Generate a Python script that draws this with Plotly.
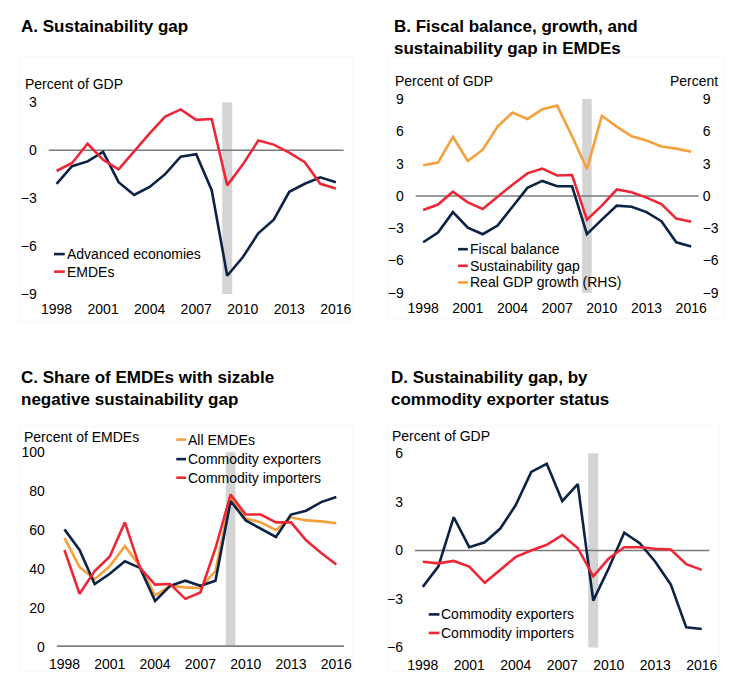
import plotly.graph_objects as go

W, H = 740, 680
FONT = "Liberation Sans, Arial, sans-serif"
NAVY = "#0b2344"
RED = "#ee2737"
ORANGE = "#f6a03c"
BAND = "#d4d4d4"
ZERO = "#7a7a7a"

years = list(range(1998, 2017))
year_ticks = [1998, 2001, 2004, 2007, 2010, 2013, 2016]
recession_year = 2009

# Panel A: sustainability gap (percent of GDP)
adv_gap = [-2.1, -1.0, -0.7, -0.1, -2.0, -2.8, -2.3, -1.5, -0.4, -0.25, -2.5,
           -7.85, -6.7, -5.2, -4.35, -2.6, -2.1, -1.7, -2.0]
emde_gap = [-1.3, -0.8, 0.4, -0.6, -1.2, -0.05, 1.05, 2.1, 2.55, 1.9, 1.95,
            -2.2, -0.9, 0.6, 0.35, -0.15, -0.75, -2.1, -2.4]

# Panel B: fiscal balance, sustainability gap, real GDP growth in EMDEs
fiscal_balance = [-4.3, -3.4, -1.5, -2.95, -3.55, -2.75, -1.0, 0.75, 1.4, 0.9, 0.9,
                  -3.55, -2.2, -0.9, -1.0, -1.5, -2.35, -4.3, -4.7]
gdp_growth = [2.85, 3.1, 5.5, 3.25, 4.3, 6.45, 7.75, 7.15, 8.05, 8.4, 5.55,
              2.5, 7.45, 6.45, 5.55, 5.15, 4.6, 4.4, 4.1]

# Panel C: share of EMDEs with sizable negative sustainability gap (percent)
share_all = [56, 41, 34.8, 41.5, 51.8, 41.5, 26.4, 31.4, 30.6, 30.3, 39,
             76.6, 66, 64, 60, 66.6, 65, 64.5, 63.5]
share_exporters = [60.4, 49.8, 32.3, 37.6, 44, 40.6, 23.6, 31.4, 34, 31.4, 34,
                   75, 65, 60.7, 56.5, 68, 70, 74.4, 77]
share_importers = [49.8, 27.3, 39, 46.5, 64, 40.6, 32, 32.3, 24.7, 28, 50.7,
                   78.3, 68, 68, 64, 64, 54.8, 48.2, 42.3]

# Panel D: sustainability gap by commodity exporter status (percent of GDP)
gap_exporters = [-2.25, -1.0, 2.05, 0.2, 0.5, 1.35, 2.8, 4.85, 5.35, 3.05, 4.1,
                 -3.1, -1.1, 1.1, 0.45, -0.7, -2.1, -4.75, -4.85]
gap_importers = [-0.7, -0.8, -0.65, -1.0, -2.0, -1.2, -0.4, 0.0, 0.35, 0.95, 0.15,
                 -1.6, -0.5, 0.2, 0.2, 0.1, 0.05, -0.85, -1.2]


def px(x):
    return x / W


def py(y):
    return 1 - y / H


fig = go.Figure()

LW = 2.6


def add_line(x, y, color, xa, ya, name):
    fig.add_trace(go.Scatter(x=x, y=y, mode="lines", name=name,
                             line=dict(color=color, width=LW),
                             xaxis=xa, yaxis=ya, showlegend=False,
                             hoverinfo="x+y+name"))


# Panel A
add_line(years, adv_gap, NAVY, "x", "y", "Advanced economies")
add_line(years, emde_gap, RED, "x", "y", "EMDEs")
# Panel B
add_line(years, gdp_growth, ORANGE, "x2", "y3", "Real GDP growth (RHS)")
add_line(years, emde_gap, RED, "x2", "y2", "Sustainability gap")
add_line(years, fiscal_balance, NAVY, "x2", "y2", "Fiscal balance")
# Panel C
add_line(years, share_all, ORANGE, "x3", "y4", "All EMDEs")
add_line(years, share_exporters, NAVY, "x3", "y4", "Commodity exporters")
add_line(years, share_importers, RED, "x3", "y4", "Commodity importers")
# Panel D
add_line(years, gap_exporters, NAVY, "x4", "y5", "Commodity exporters")
add_line(years, gap_importers, RED, "x4", "y5", "Commodity importers")

tick_font = dict(family=FONT, size=14, color="#000000")

xcommon = dict(range=[1997.5, 2016.5], tickvals=year_ticks, showgrid=False,
               zeroline=False, showline=False, ticks="", tickfont=tick_font,
               fixedrange=True)
ycommon = dict(showgrid=False, zeroline=False, showline=False, ticks="",
               tickfont=tick_font, ticklabelstandoff=11, fixedrange=True)

domA = dict(x=[px(41.7), px(343)], y=[py(293), py(96.5)])
domB = dict(x=[px(416.7), px(705.9)], y=[py(291.7), py(93.3)])
domC = dict(x=[px(50), px(343.3)], y=[py(654.3), py(455)])
domD = dict(x=[px(416), px(717)], y=[py(655), py(456)])

fig.update_layout(
    width=W, height=H,
    margin=dict(l=0, r=0, t=0, b=0),
    paper_bgcolor="white", plot_bgcolor="rgba(0,0,0,0)",
    font=dict(family=FONT, size=14, color="#000000"),
    xaxis=dict(domain=domA["x"], anchor="y", ticklabelstandoff=5, **xcommon),
    yaxis=dict(domain=domA["y"], anchor="x", range=[-9, 3],
               tickvals=[3, 0, -3, -6, -9], **ycommon),
    xaxis2=dict(domain=domB["x"], anchor="y2", ticklabelstandoff=5, **xcommon),
    yaxis2=dict(domain=domB["y"], anchor="x2", range=[-9, 9],
                tickvals=[9, 6, 3, 0, -3, -6, -9], **ycommon),
    yaxis3=dict(overlaying="y2", side="right", anchor="x2", range=[-9, 9],
                tickvals=[9, 6, 3, 0, -3, -6, -9], showgrid=False, zeroline=False,
                showline=False, ticks="", tickfont=tick_font,
                ticklabelstandoff=3, fixedrange=True),
    xaxis3=dict(domain=domC["x"], anchor="y4", ticklabelstandoff=7, **xcommon),
    yaxis4=dict(domain=domC["y"], anchor="x3", range=[0, 100],
                tickvals=[0, 20, 40, 60, 80, 100], **ycommon),
    xaxis4=dict(domain=domD["x"], anchor="y5", ticklabelstandoff=7, **xcommon),
    yaxis5=dict(domain=domD["y"], anchor="x4", range=[-6, 6],
                tickvals=[6, 3, 0, -3, -6], **ycommon),
)

shapes = []

# faint chart-area frames
for x0, y0, x1, y1 in [(12, 50, 353, 322), (388, 50, 732, 318),
                       (12, 428, 353, 679), (388, 428, 727, 679)]:
    shapes.append(dict(type="rect", xref="paper", yref="paper",
                       x0=px(x0), x1=px(x1), y0=py(y1), y1=py(y0),
                       line=dict(color="#f6f6f6", width=1), layer="below"))

# recession-year bands
for xa, ya in [("x", "y"), ("x2", "y2"), ("x3", "y4"), ("x4", "y5")]:
    shapes.append(dict(type="rect", xref=xa, yref=ya + " domain",
                       x0=recession_year - 0.32, x1=recession_year + 0.32,
                       y0=0, y1=1, fillcolor=BAND, line=dict(width=0),
                       layer="below"))

# zero lines
for xa, ya, w in [("x", "y", 1.5), ("x2", "y2", 1.5), ("x4", "y5", 1.5)]:
    shapes.append(dict(type="line", xref=xa + " domain", yref=ya,
                       x0=0, x1=1, y0=0, y1=0,
                       line=dict(color=ZERO, width=w), layer="below"))
shapes.append(dict(type="line", xref="x3 domain", yref="y4",
                   x0=0, x1=1, y0=0, y1=0,
                   line=dict(color="#808080", width=3.5), layer="above"))

annotations = []


def text(x, y, s, size=14, bold=False, xanchor="left"):
    annotations.append(dict(
        xref="paper", yref="paper", x=px(x), y=py(y), text=s,
        showarrow=False, xanchor=xanchor, yanchor="middle", align="left",
        font=dict(family=FONT, size=size, color="#000000"),
    ))


def title(x, y, s):
    annotations.append(dict(
        xref="paper", yref="paper", x=px(x), y=py(y), text="<b>" + s + "</b>",
        showarrow=False, xanchor="left", yanchor="top", align="left",
        font=dict(family=FONT, size=17, color="#000000"),
    ))


def legend_item(x_line0, x_line1, y, color, label):
    shapes.append(dict(type="line", xref="paper", yref="paper",
                       x0=px(x_line0), x1=px(x_line1), y0=py(y), y1=py(y),
                       line=dict(color=color, width=LW)))
    text(x_line1, y, label)


# titles
title(11, 7, "A. Sustainability gap")
title(392, 7, "B. Fiscal balance, growth, and<br>sustainability gap in EMDEs")
title(11, 367, "C. Share of EMDEs with sizable<br>negative sustainability gap")
title(389, 367, "D. Sustainability gap, by<br>commodity exporter status")

# axis titles
text(15, 78, "Percent of GDP")
text(394, 75, "Percent of GDP")
text(728, 75, "Percent", xanchor="right")
text(14, 439, "Percent of EMDEs")
text(390, 438, "Percent of GDP")

# legends
legend_item(47, 58, 252, NAVY, "Advanced economies")
legend_item(47, 58, 270, RED, "EMDEs")

legend_item(460, 470, 247, NAVY, "Fiscal balance")
legend_item(460, 470, 264, RED, "Sustainability gap")
legend_item(460, 470, 281, ORANGE, "Real GDP growth (RHS)")

legend_item(172, 182, 442, ORANGE, "All EMDEs")
legend_item(172, 182, 462, NAVY, "Commodity exporters")
legend_item(172, 182, 481, RED, "Commodity importers")

legend_item(430, 441, 621, NAVY, "Commodity exporters")
legend_item(430, 441, 640, RED, "Commodity importers")

fig.update_layout(shapes=shapes, annotations=annotations)

fig.write_html("out.html")
